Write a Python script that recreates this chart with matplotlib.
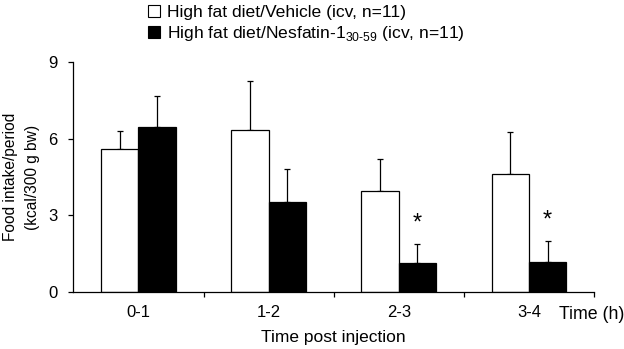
import matplotlib
matplotlib.use("Agg")
import matplotlib.pyplot as plt
import numpy as np
from matplotlib.patches import Patch
from matplotlib.ticker import FixedLocator

plt.rcParams['font.family'] = ['Liberation Sans', 'DejaVu Sans']
plt.rcParams['mathtext.fontset'] = 'custom'
plt.rcParams['mathtext.rm'] = 'Liberation Sans'

categories = ["0-1", "1-2", "2-3", "3-4"]
vehicle = [5.60, 6.35, 3.96, 4.61]
vehicle_err = [0.71, 1.88, 1.25, 1.66]
nesfatin = [6.47, 3.52, 1.13, 1.20]
nesfatin_err = [1.20, 1.30, 0.75, 0.80]
significant = [False, False, True, True]
yticks = [0, 3, 6, 9]

fig = plt.figure(figsize=(6.24, 3.49), dpi=100)
ax = fig.add_axes([0.1175, 0.1625, 0.8345, 0.6607])

x = np.arange(len(categories))
w = 0.287
ax.bar(x - w/2, vehicle, w, color='white', edgecolor='black', linewidth=0.9, zorder=2)
ax.bar(x + w/2, nesfatin, w, color='black', edgecolor='black', linewidth=0.9, zorder=2)
ax.errorbar(x - w/2, vehicle, yerr=[np.zeros(4), vehicle_err], fmt='none',
            ecolor='black', elinewidth=0.9, capsize=2, capthick=0.9, zorder=1)
ax.errorbar(x + w/2, nesfatin, yerr=[np.zeros(4), nesfatin_err], fmt='none',
            ecolor='black', elinewidth=0.9, capsize=2, capthick=0.9, zorder=1)
for i, s in enumerate(significant):
    if s:
        ax.text(x[i] + w/2, nesfatin[i] + nesfatin_err[i] + 0.82, '*', ha='center',
                va='center', fontsize=17)

ax.set_xlim(-0.5, 3.5)
ax.set_ylim(0, 9)
ax.set_yticks(yticks)
ax.tick_params(axis='y', direction='out', length=3.8, width=0.9, labelsize=12, pad=7.5)
ax.set_xticks(x)
ax.set_xticklabels(categories, fontsize=12)
ax.tick_params(axis='x', which='major', length=0, pad=9)
ax.xaxis.set_minor_locator(FixedLocator([0.5, 1.5, 2.5, 3.5]))
ax.tick_params(axis='x', which='minor', direction='out', length=3.8, width=0.9)
for sp in ['top', 'right']:
    ax.spines[sp].set_visible(False)
for sp in ['left', 'bottom']:
    ax.spines[sp].set_linewidth(0.9)

ax.set_xlabel('Time post injection', fontsize=12.5, labelpad=7)
ax.set_ylabel('Food intake/period\n(kcal/300 g bw)', fontsize=11.2, labelpad=6,
              linespacing=1.6)
fig.text(0.896, 0.100, 'Time (h)', fontsize=12.8, ha='left', va='center')

handles = [Patch(facecolor='white', edgecolor='black', linewidth=0.8),
           Patch(facecolor='black', edgecolor='black', linewidth=0.8)]
labels = ['High fat diet/Vehicle (icv, n=11)',
          'High fat diet/Nesfatin-1$_{\\mathregular{30\u201059}}$ (icv, n=11)']
fig.legend(handles, labels, loc='upper left', bbox_to_anchor=(0.237, 0.985),
           frameon=False, fontsize=12.6, handlelength=0.7, handleheight=0.7,
           handletextpad=0.4, labelspacing=0.22, borderaxespad=0, borderpad=0)

fig.savefig('out.png', dpi=100)
